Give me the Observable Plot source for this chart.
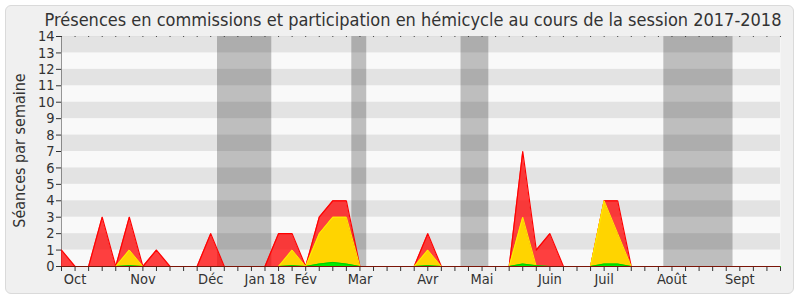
<!DOCTYPE html>
<html>
<head>
<meta charset="utf-8">
<script src="https://cdn.jsdelivr.net/npm/d3@7"></script>
<script src="https://cdn.jsdelivr.net/npm/@observablehq/plot@0.6"></script>
<style>
  body { margin: 0; background: #fff; }
  #wrap { position: relative; width: 800px; height: 300px; background: #fff; }
  #frame { position: absolute; left: 5px; top: 5px; width: 787px; height: 287px;
           border: 1px solid #dadada; border-radius: 6px; background: #f0f0f0; }
  #chart { position: absolute; left: 0; top: 0; }
</style>
</head>
<body>
<div id="wrap"><div id="frame"></div><div id="chart"></div></div>
<script>
const titleText = "Présences en commissions et participation en hémicycle au cours de la session 2017-2018";
const yLabel = "Séances par semaine";

// week index 0..53
const weeks = d3.range(0, 54);
const red    = [1,0,0,3,0,3,0,1,0,0, 0,2,0,0,0,0,2,2,0,3, 4,4,0,0,0,0,0,2,0,0, 0,0,0,0,7,1,2,0,0,0, 4,4,0,0,0,0,0,0,0,0, 0,0,0,0];
const yellow = [0,0,0,0,0,1,0,0,0,0, 0,0,0,0,0,0,0,1,0,2, 3,3,0,0,0,0,0,1,0,0, 0,0,0,0,3,0,0,0,0,0, 4,2,0,0,0,0,0,0,0,0, 0,0,0,0];
const green  = [0,0,0,0,0,0.05,0,0,0,0, 0,0,0,0,0,0,0,0.05,0,0.15, 0.25,0.15,0,0,0,0,0,0.05,0,0, 0,0,0,0,0.15,0.05,0,0,0,0, 0.15,0.15,0,0,0,0,0,0,0,0, 0,0,0,0];

const monthNames = ["Oct","Nov","Déc","Jan 18","Fév","Mar","Avr","Mai","Juin","Juil","Août","Sept"];
const monthWeeks = [1, 6, 11, 15, 18, 22, 27, 31, 36, 40, 45, 50];

const vacStart = [11.5, 21.4, 29.45, 44.4];
const vacEnd   = [15.5, 22.5, 31.5, 49.5];

const stripeLow  = [1, 3, 5, 7, 9, 11, 13];
const stripeHigh = [2, 4, 6, 8, 10, 12, 14];

const rows = weeks.map((w, i) => ({w, red: red[i], yellow: yellow[i], green: green[i]}));
const months = monthNames.map((m, i) => ({m, w: monthWeeks[i]}));
const vacs = vacStart.map((s, i) => ({s, e: vacEnd[i]}));
const stripes = stripeLow.map((l, i) => ({l, h: stripeHigh[i]}));

const font = "'DejaVu Sans Condensed', 'DejaVu Sans', sans-serif";

const chart = Plot.plot({
  width: 800,
  height: 300,
  marginLeft: 61,
  marginRight: 20,
  marginTop: 36,
  marginBottom: 34,
  style: { background: "transparent", fontFamily: font, fontSize: "14.5px", color: "#333", fontStretch: "condensed" },
  x: { domain: [0, 53], ticks: 53, tickSize: 5, tickFormat: () => "", label: null },
  y: { domain: [0, 14], ticks: 14, tickSize: 5, tickPadding: 2, line: true, label: null },
  marks: [
    Plot.frame({ fill: "#f9f9f9", stroke: "none" }),
    Plot.rect(vacs, { x1: "s", x2: "e", fill: "#bebebe" }),
    Plot.rect(stripes, { y1: "l", y2: "h", fill: "black", fillOpacity: 0.085 }),
    Plot.areaY(rows, { x: "w", y: "red", fill: "#ff0000", fillOpacity: 0.75 }),
    Plot.lineY(rows, { x: "w", y: "red", stroke: "#ff0000", strokeWidth: 1.2 }),
    Plot.areaY(rows, { x: "w", y: "yellow", fill: "#ffd400" }),
    Plot.lineY(rows, { x: "w", y: "yellow", stroke: "#ffee00", strokeWidth: 1 }),
    Plot.areaY(rows, { x: "w", y: "green", fill: "#00ee00" }),
    Plot.lineY(rows, { x: "w", y: "green", stroke: "#00cc00", strokeWidth: 1 }),
    Plot.ruleY([0], { stroke: "#7a1508", strokeWidth: 1.2 }),
    Plot.dot(weeks, { x: d => d, y: () => 14, r: 0.6, fill: "#333", stroke: "none" }),
    Plot.text(months, { x: "w", y: () => 0, text: "m", dy: 13, fill: "#333", fontSize: 14.5 }),
    Plot.text([titleText], { frameAnchor: "top", text: d => d, lineAnchor: "bottom", dy: -10.5, dx: -8, fontSize: 18, fill: "#333" }),
    Plot.text([yLabel], { frameAnchor: "left", text: d => d, textAnchor: "middle", rotate: -90, dx: -42, dy: -1, fontSize: 16, fill: "#333" })
  ]
});
document.getElementById("chart").appendChild(chart);
</script>
</body>
</html>
